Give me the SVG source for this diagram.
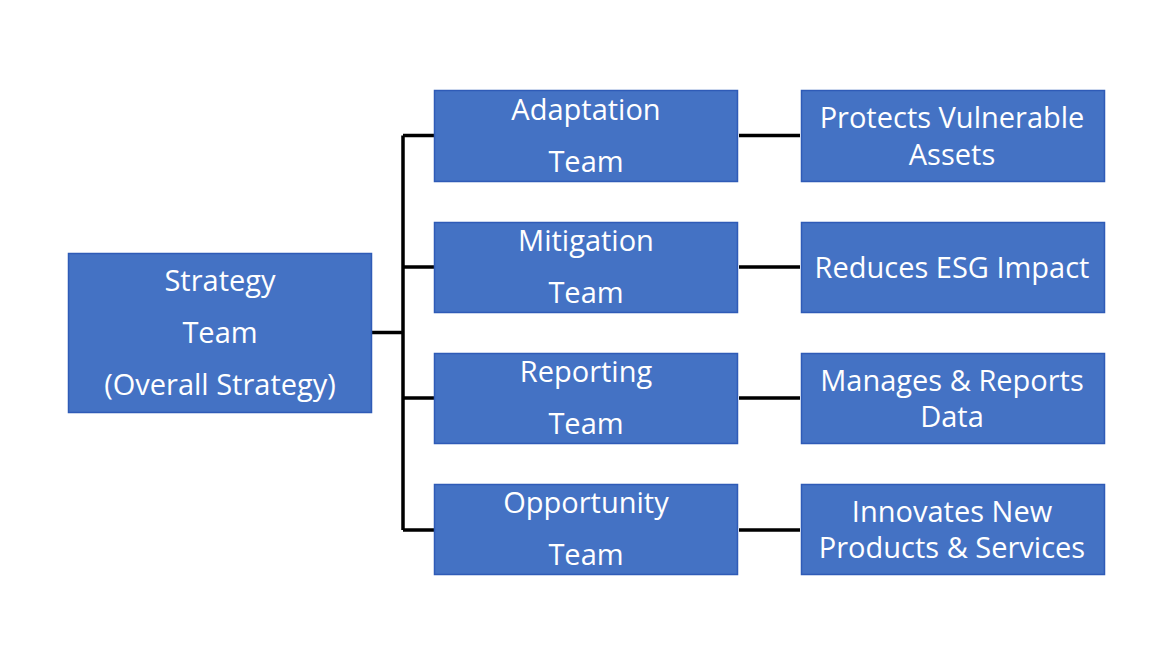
<svg xmlns="http://www.w3.org/2000/svg" width="1170" height="658" viewBox="0 0 1170 658">
<style>
.box{fill:#4472C4;stroke:#2F5BB7;stroke-width:1.5}
.t{fill:#fff;font-family:"Open Sans","Noto Sans",sans-serif;font-size:29px;text-anchor:middle}
.c{stroke:#000;stroke-width:3.5;fill:none}
</style>
<rect width="1170" height="658" fill="#fff"/>
<g id="connectors">
<path class="c" d="M372 332.5H403M403 135.5V530M403 135.5H434M403 267H434M403 398H434M403 530H434"/>
<path class="c" d="M739 135.5H800M739 267H800M739 398H800M739 530H800"/>
</g>
<g id="strategy"><rect class="box" x="68.5" y="253.5" width="303" height="159"/>
<text class="t" x="220" y="291">Strategy</text><text class="t" x="220" y="343">Team</text><text class="t" x="220" y="395">(Overall Strategy)</text></g>
<g id="adaptation"><rect class="box" x="434.5" y="90.5" width="303" height="91"/>
<text class="t" x="586" y="120">Adaptation</text><text class="t" x="586" y="172">Team</text></g>
<g id="mitigation"><rect class="box" x="434.5" y="222.5" width="303" height="90"/>
<text class="t" x="586" y="251">Mitigation</text><text class="t" x="586" y="303">Team</text></g>
<g id="reporting"><rect class="box" x="434.5" y="353.5" width="303" height="90"/>
<text class="t" x="586" y="382">Reporting</text><text class="t" x="586" y="434">Team</text></g>
<g id="opportunity"><rect class="box" x="434.5" y="484.5" width="303" height="90"/>
<text class="t" x="586" y="513">Opportunity</text><text class="t" x="586" y="565">Team</text></g>
<g id="protects"><rect class="box" x="801.5" y="90.5" width="303" height="91"/>
<text class="t" x="952" y="128">Protects Vulnerable</text><text class="t" x="952" y="165">Assets</text></g>
<g id="reduces"><rect class="box" x="801.5" y="222.5" width="303" height="90"/>
<text class="t" x="952" y="278">Reduces ESG Impact</text></g>
<g id="manages"><rect class="box" x="801.5" y="353.5" width="303" height="90"/>
<text class="t" x="952" y="391">Manages &amp; Reports</text><text class="t" x="952" y="427">Data</text></g>
<g id="innovates"><rect class="box" x="801.5" y="484.5" width="303" height="90"/>
<text class="t" x="952" y="522">Innovates New</text><text class="t" x="952" y="558">Products &amp; Services</text></g>
</svg>
